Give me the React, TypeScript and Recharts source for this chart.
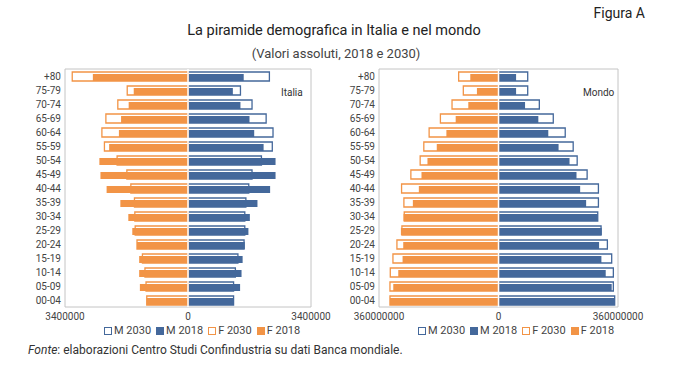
import { Bar, BarChart, ReferenceArea, ReferenceLine, XAxis, YAxis } from "recharts";

const BLUE = "#44689b";
const ORANGE = "#f29446";
const FONT = "Roboto, 'Noto Sans', sans-serif";

const ageGroups = [
  "+80", "75-79", "70-74", "65-69", "60-64", "55-59", "50-54", "45-49", "40-44",
  "35-39", "30-34", "25-29", "20-24", "15-19", "10-14", "05-09", "00-04",
];

// Italia (valori assoluti)
const italyM2018 = [1540000, 1240000, 1450000, 1700000, 1830000, 2090000, 2420000, 2420000, 2270000, 1920000, 1710000, 1670000, 1570000, 1510000, 1480000, 1440000, 1260000];
const italyM2030 = [2250000, 1450000, 1770000, 2160000, 2350000, 2330000, 2030000, 1770000, 1680000, 1600000, 1570000, 1570000, 1550000, 1380000, 1310000, 1260000, 1260000];
const italyF2018 = [2630000, 1500000, 1640000, 1850000, 1910000, 2180000, 2450000, 2420000, 2250000, 1870000, 1650000, 1540000, 1410000, 1350000, 1350000, 1330000, 1140000];
const italyF2030 = [3200000, 1680000, 1940000, 2270000, 2380000, 2310000, 1960000, 1690000, 1580000, 1480000, 1470000, 1460000, 1410000, 1260000, 1190000, 1160000, 1140000];

// Mondo (valori assoluti)
const worldM2018 = [53000000, 53000000, 80000000, 120000000, 150000000, 181000000, 214000000, 235000000, 246000000, 264000000, 299000000, 311000000, 303000000, 310000000, 323000000, 341000000, 350000000];
const worldM2030 = [88000000, 88000000, 123000000, 165000000, 201000000, 225000000, 237000000, 267000000, 301000000, 301000000, 299000000, 309000000, 328000000, 341000000, 346000000, 346000000, 350000000];
const worldF2018 = [85000000, 65000000, 91000000, 129000000, 157000000, 186000000, 214000000, 232000000, 240000000, 258000000, 286000000, 294000000, 287000000, 289000000, 302000000, 317000000, 327000000];
const worldF2030 = [120000000, 106000000, 140000000, 175000000, 209000000, 225000000, 236000000, 264000000, 292000000, 285000000, 284000000, 291000000, 306000000, 318000000, 326000000, 327000000, 327000000];

const italyTicks = [-3400000, 0, 3400000];
const worldTicks = [-360000000, 0, 360000000];

const legendLabels = ["M 2030", "M 2018", "F 2030", "F 2018"];
const legendColors = [BLUE, BLUE, ORANGE, ORANGE];
const legendFilled = [false, true, false, true];

function buildRows(m2018: number[], m2030: number[], f2018: number[], f2030: number[]) {
  return ageGroups.map((age, i) => ({
    age,
    m2030: m2030[i],
    m2018: m2018[i],
    f2030: -f2030[i],
    f2018: -f2018[i],
  }));
}

function Legend({ left, top }: { left: number; top: number }) {
  return (
    <div
      style={{
        position: "absolute",
        left,
        top,
        display: "flex",
        gap: 5,
        fontSize: 11,
        color: "#444",
        fontFamily: FONT,
        whiteSpace: "nowrap",
      }}
    >
      {legendLabels.map((l, i) => (
        <span key={l} style={{ display: "flex", alignItems: "center", gap: 2 }}>
          <span
            style={{
              display: "inline-block",
              width: 6,
              height: 6,
              border: `1.5px solid ${legendColors[i]}`,
              background: legendFilled[i] ? legendColors[i] : "#fff",
            }}
          />
          {l}
        </span>
      ))}
    </div>
  );
}

interface PyramidProps {
  rows: ReturnType<typeof buildRows>;
  ticks: number[];
  left: number;
  plotWidth: number;
}

const Y_AXIS_W = 55;
const RIGHT_PAD = 28;

function Pyramid({ rows, ticks, left, plotWidth }: PyramidProps) {
  const max = ticks[ticks.length - 1];
  return (
    <div style={{ position: "absolute", left, top: 60 }}>
      <BarChart
        width={Y_AXIS_W + plotWidth + RIGHT_PAD}
        height={267}
        data={rows}
        layout="vertical"
        stackOffset="sign"
        barGap={-7}
        margin={{ top: 9, right: RIGHT_PAD, bottom: 0, left: 0 }}
      >
        <XAxis
          type="number"
          domain={[-max, max]}
          ticks={ticks}
          interval={0}
          tickFormatter={(v: number) => String(Math.abs(v))}
          axisLine={false}
          tickLine={false}
          tickSize={0}
          tickMargin={6}
          height={20}
          tick={{ fontSize: 10, fill: "#444", fontFamily: FONT }}
        />
        <YAxis
          type="category"
          dataKey="age"
          width={Y_AXIS_W}
          axisLine={false}
          tickLine={false}
          tickSize={0}
          tickMargin={4}
          interval={0}
          tick={{ fontSize: 10, fill: "#444", fontFamily: FONT }}
        />
        <Bar dataKey="m2030" stackId="a" barSize={9} fill="#fff" stroke={BLUE} strokeWidth={1.3} isAnimationActive={false} />
        <Bar dataKey="m2018" stackId="b" barSize={7} fill={BLUE} isAnimationActive={false} />
        <Bar dataKey="f2030" stackId="a" barSize={9} fill="#fff" stroke={ORANGE} strokeWidth={1.3} isAnimationActive={false} />
        <Bar dataKey="f2018" stackId="b" barSize={7} fill={ORANGE} isAnimationActive={false} />
        <ReferenceLine x={0} stroke="#fff" strokeWidth={1.5} ifOverflow="visible" />
        <ReferenceArea x1={-max} x2={max} fill="none" stroke="#c4c4c4" strokeWidth={1} ifOverflow="visible" />
      </BarChart>
    </div>
  );
}

export default function App() {
  const italy = buildRows(italyM2018, italyM2030, italyF2018, italyF2030);
  const world = buildRows(worldM2018, worldM2030, worldF2018, worldF2030);
  return (
    <div
      style={{
        position: "fixed",
        left: 0,
        top: 0,
        width: 680,
        height: 372,
        background: "#fff",
        fontFamily: FONT,
        overflow: "hidden",
      }}
    >
      <div style={{ position: "absolute", right: 35, top: 5, fontSize: 14, color: "#222" }}>Figura A</div>
      <div style={{ position: "absolute", left: 0, width: 668, top: 22, textAlign: "center", fontSize: 14.5, color: "#222" }}>
        La piramide demografica in Italia e nel mondo
      </div>
      <div style={{ position: "absolute", left: 0, width: 672, top: 46, textAlign: "center", fontSize: 13, color: "#444" }}>
        (Valori assoluti, 2018 e 2030)
      </div>

      <Pyramid rows={italy} ticks={italyTicks} left={10} plotWidth={246} />
      <Pyramid rows={world} ticks={worldTicks} left={324} plotWidth={239} />

      <div style={{ position: "absolute", left: 281, top: 87, fontSize: 10, color: "#333" }}>Italia</div>
      <div style={{ position: "absolute", left: 583, top: 87, fontSize: 10, color: "#333" }}>Mondo</div>

      <Legend left={104} top={324} />
      <Legend left={418} top={324} />

      <div style={{ position: "absolute", left: 28, top: 343, fontSize: 12, color: "#333" }}>
        <i>Fonte</i>: elaborazioni Centro Studi Confindustria su dati Banca mondiale.
      </div>
    </div>
  );
}
